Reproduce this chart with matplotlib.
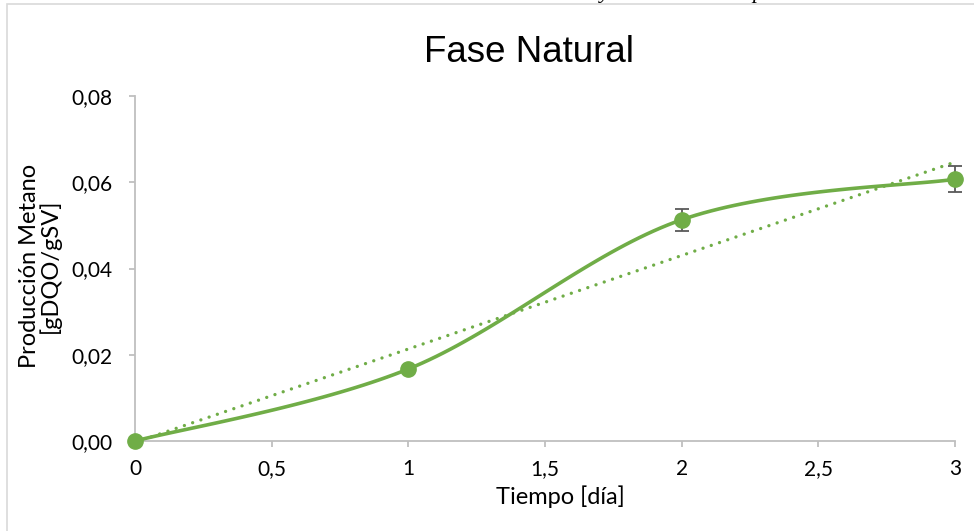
import numpy as np
import matplotlib
matplotlib.use("Agg")
from matplotlib import pyplot as plt
from matplotlib.patches import Rectangle

# data
dias = [0, 1, 2, 3]
metano = [0.0, 0.0167, 0.0513, 0.0607]
error = [0.0, 0.0, 0.0026, 0.0030]
xticks = [0, 0.5, 1, 1.5, 2, 2.5, 3]
yticks = [0.0, 0.02, 0.04, 0.06, 0.08]

green = "#70AD47"
gray = "#BFBFBF"


def excel_smooth(x, y, n=40):
    # Catmull-Rom style bezier like Excel's "smoothed line"
    p = np.column_stack([x, y]).astype(float)
    p = np.vstack([p[0], p, p[-1]])
    out = []
    for i in range(1, len(p) - 2):
        p0, p1, p2, p3 = p[i - 1], p[i], p[i + 1], p[i + 2]
        c1 = p1 + (p2 - p0) / 6
        c2 = p2 - (p3 - p1) / 6
        t = np.linspace(0, 1, n)[:, None]
        seg = ((1 - t) ** 3) * p1 + 3 * ((1 - t) ** 2) * t * c1 + 3 * (1 - t) * t ** 2 * c2 + t ** 3 * p2
        out.append(seg)
    s = np.vstack(out)
    return s[:, 0], s[:, 1]


plt.rcParams['font.family'] = ['Lato', 'DejaVu Sans']

fig = plt.figure(figsize=(9.74, 5.31), dpi=100)
fig.patches.append(Rectangle((7 / 974, -0.05), 1.2, 1 - 4 / 531 + 0.05, transform=fig.transFigure,
                             fill=False, edgecolor="#D9D9D9", linewidth=1.2))

ax = fig.add_axes([135 / 974, 1 - 441 / 531, 820 / 974, 345 / 531])

sx, sy = excel_smooth(dias, metano)
ax.plot(sx, sy, color=green, linewidth=2.6, solid_capstyle="round", zorder=3, clip_on=False)

# linear trendline
k, b = np.polyfit(dias, metano, 1)
tx = np.array([dias[0], dias[-1]])
ax.plot(tx, k * tx + b, color=green, linewidth=2.4, linestyle=(0, (0.01, 2.6)),
        dash_capstyle="round", zorder=2, clip_on=False)

ax.errorbar(dias, metano, yerr=error, fmt="none", ecolor="#595959", elinewidth=1.3,
            capsize=5, capthick=1.3, zorder=4, clip_on=False)
ax.plot(dias, metano, "o", color=green, markersize=11, zorder=5, clip_on=False)

ax.set_xlim(0, 3)
ax.set_ylim(0, 0.08)
ax.set_xticks(xticks)
ax.set_yticks(yticks)
ax.set_xticklabels([f"{v:g}".replace(".", ",") for v in xticks], fontsize=15)
ax.set_yticklabels([f"{v:.2f}".replace(".", ",") for v in yticks], fontsize=15)
ax.tick_params(colors=gray, labelcolor="black", length=4, width=1.3, direction="out")
ax.tick_params(axis="x", pad=9)
ax.tick_params(axis="y", pad=12)
for s in ["top", "right"]:
    ax.spines[s].set_visible(False)
for s in ["left", "bottom"]:
    ax.spines[s].set_color(gray)
    ax.spines[s].set_linewidth(1.3)
ax.patch.set_alpha(0)

fig.text(560 / 974, 1 - 497 / 531, "Tiempo [día]", ha="center", va="center", fontsize=17)
fig.text(40 / 974, 1 - 266 / 531, "Producción Metano\n[gDQO/gSV]", ha="center", va="center",
         rotation=90, fontsize=17, linespacing=0.9)
fig.text(529 / 974, 1 - 52 / 531, "Fase Natural", ha="center", va="center",
         fontsize=26.5, family="Liberation Sans")

# cut-off text fragments from the page above
fig.text(600 / 974, 1 + 2 / 531, "y", fontsize=16, family="Liberation Serif", style="italic",
         va="baseline", ha="left")
fig.text(752 / 974, 1 + 2 / 531, "p", fontsize=16, family="Liberation Serif", style="italic",
         va="baseline", ha="left")

fig.savefig("out.png", dpi=100)
